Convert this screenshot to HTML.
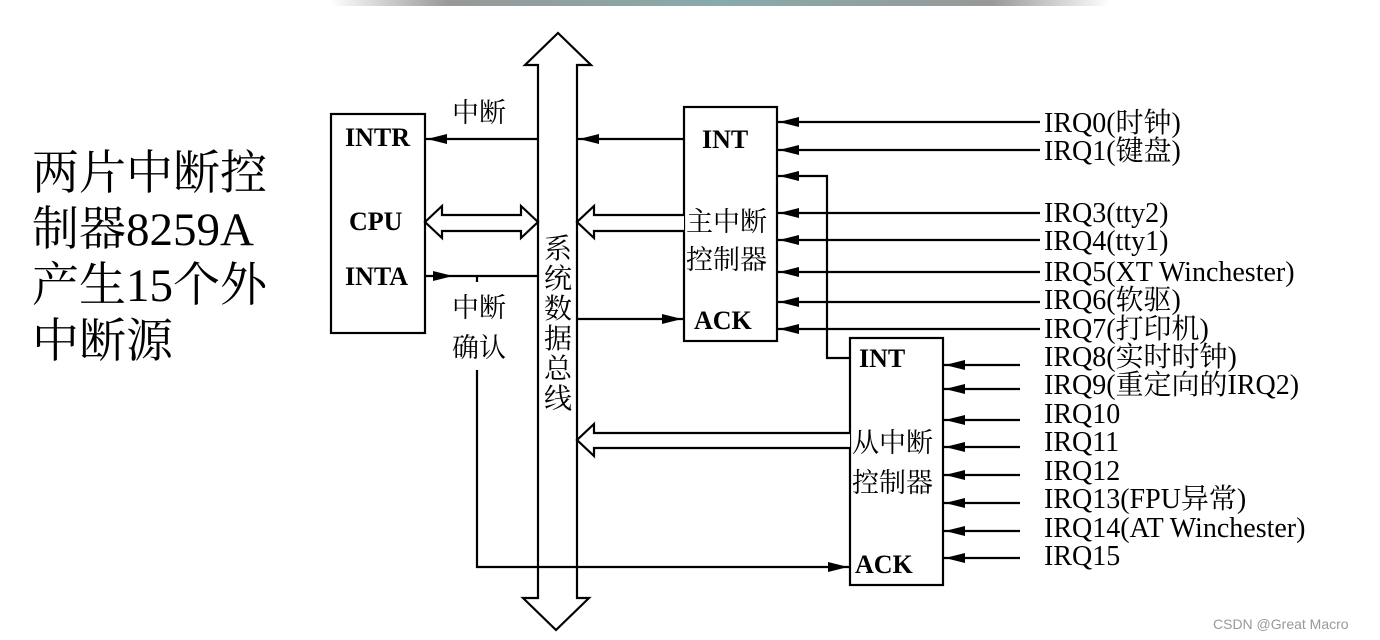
<!DOCTYPE html>
<html><head><meta charset="utf-8"><style>
html,body{margin:0;padding:0;background:#fff;width:1380px;height:640px;overflow:hidden}
svg{display:block}
.s{font-family:"Liberation Serif","Noto Serif CJK SC",serif;fill:#000}
</style></head><body>
<svg width="1380" height="640" viewBox="0 0 1380 640" xmlns="http://www.w3.org/2000/svg">
<defs>
<linearGradient id="g" x1="0" x2="1"><stop offset="0" stop-color="#fff"/><stop offset="0.15" stop-color="#999"/><stop offset="0.5" stop-color="#8aa"/><stop offset="0.85" stop-color="#999"/><stop offset="1" stop-color="#fff"/></linearGradient>
</defs>
<rect x="330" y="0" width="780" height="6" fill="url(#g)"/>
<g class="s" font-size="47">
<text x="32" y="189">两片中断控</text>
<text x="32" y="245">制器8259A</text>
<text x="32" y="301">产生15个外</text>
<text x="32" y="357">中断源</text>
</g>
<g fill="none" stroke="#000" stroke-width="2.2">
<path d="M538,598 L538,65 L525,65 L558,33 L591,65 L577,65 L577,598 L589,598 L556,630 L523,598 Z" fill="#fff"/>
<rect x="331" y="114" width="94" height="219"/>
<rect x="684" y="107" width="93" height="234"/>
<rect x="850" y="338" width="93" height="247"/>
<line x1="425" y1="139" x2="538" y2="139"/>
<line x1="577" y1="139" x2="684" y2="139"/>
<line x1="425" y1="276" x2="538" y2="276"/>
<line x1="477" y1="276" x2="477" y2="282"/>
<line x1="577" y1="319" x2="684" y2="319"/>
<polyline points="477,370 477,567 850,567"/>
<polyline points="777,176 827,176 827,358 850,358"/>
<path d="M425,222 L442,206 L442,215 L521,215 L521,206 L538,222 L521,238 L521,231 L442,231 L442,238 Z" fill="#fff"/>
<path d="M684,215 L594,215 L594,206 L577,222 L594,238 L594,231 L684,231" fill="#fff"/>
<path d="M850,433 L594,433 L594,424 L577,440 L594,456 L594,448 L850,448" fill="#fff"/>
<g>
<line x1="777" y1="122" x2="1040" y2="122"/>
<line x1="777" y1="150" x2="1040" y2="150"/>
<line x1="777" y1="213" x2="1040" y2="213"/>
<line x1="777" y1="240" x2="1040" y2="240"/>
<line x1="777" y1="272" x2="1040" y2="272"/>
<line x1="777" y1="302" x2="1040" y2="302"/>
<line x1="777" y1="329" x2="1040" y2="329"/>
</g>
<g>
<line x1="943" y1="365" x2="1020" y2="365"/>
<line x1="943" y1="389" x2="1020" y2="389"/>
<line x1="943" y1="420" x2="1020" y2="420"/>
<line x1="943" y1="447" x2="1020" y2="447"/>
<line x1="943" y1="475" x2="1020" y2="475"/>
<line x1="943" y1="503" x2="1020" y2="503"/>
<line x1="943" y1="531" x2="1020" y2="531"/>
<line x1="943" y1="558" x2="1020" y2="558"/>
</g>
</g>
<g fill="#000">
<path d="M427,139 l20,-5 v10 z"/>
<path d="M579,139 l20,-5 v10 z"/>
<path d="M453,276 l-20,-5 v10 z"/>
<path d="M682,319 l-20,-5 v10 z"/>
<path d="M848,567 l-20,-5 v10 z"/>
<path d="M779,122 l20,-5 v10 z"/>
<path d="M779,150 l20,-5 v10 z"/>
<path d="M779,176 l20,-5 v10 z"/>
<path d="M779,213 l20,-5 v10 z"/>
<path d="M779,240 l20,-5 v10 z"/>
<path d="M779,272 l20,-5 v10 z"/>
<path d="M779,302 l20,-5 v10 z"/>
<path d="M779,329 l20,-5 v10 z"/>
<path d="M945,365 l20,-5 v10 z"/>
<path d="M945,389 l20,-5 v10 z"/>
<path d="M945,420 l20,-5 v10 z"/>
<path d="M945,447 l20,-5 v10 z"/>
<path d="M945,475 l20,-5 v10 z"/>
<path d="M945,503 l20,-5 v10 z"/>
<path d="M945,531 l20,-5 v10 z"/>
<path d="M945,558 l20,-5 v10 z"/>
</g>
<g class="s" font-size="26" font-weight="bold">
<text x="345" y="146">INTR</text>
<text x="349" y="230">CPU</text>
<text x="345" y="285">INTA</text>
<text x="702" y="148">INT</text>
<text x="694" y="329">ACK</text>
<text x="859" y="367">INT</text>
<text x="855" y="573">ACK</text>
</g>
<g class="s" font-size="27">
<text x="452" y="122">中断</text>
<text x="452" y="317">中断</text>
<text x="452" y="357">确认</text>
<text x="686" y="231">主中断</text>
<text x="686" y="269">控制器</text>
<text x="852" y="452">从中断</text>
<text x="852" y="492">控制器</text>
</g>
<g class="s" font-size="28" text-anchor="middle">
<text x="558" y="258">系</text>
<text x="558" y="288">统</text>
<text x="558" y="318">数</text>
<text x="558" y="348">据</text>
<text x="558" y="378">总</text>
<text x="558" y="408">线</text>
</g>
<g class="s" font-size="28">
<text x="1044" y="132">IRQ0(时钟)</text>
<text x="1044" y="160">IRQ1(键盘)</text>
<text x="1044" y="222">IRQ3(tty2)</text>
<text x="1044" y="250">IRQ4(tty1)</text>
<text x="1044" y="281">IRQ5(XT Winchester)</text>
<text x="1044" y="309">IRQ6(软驱)</text>
<text x="1044" y="338">IRQ7(打印机)</text>
<text x="1044" y="366">IRQ8(实时时钟)</text>
<text x="1044" y="394">IRQ9(重定向的IRQ2)</text>
<text x="1044" y="423">IRQ10</text>
<text x="1044" y="451">IRQ11</text>
<text x="1044" y="480">IRQ12</text>
<text x="1044" y="508">IRQ13(FPU异常)</text>
<text x="1044" y="537">IRQ14(AT Winchester)</text>
<text x="1044" y="565">IRQ15</text>
</g>
<text x="1213" y="629" font-family="Liberation Sans, sans-serif" font-size="14" fill="#999">CSDN @Great Macro</text>
</svg>
</body></html>
